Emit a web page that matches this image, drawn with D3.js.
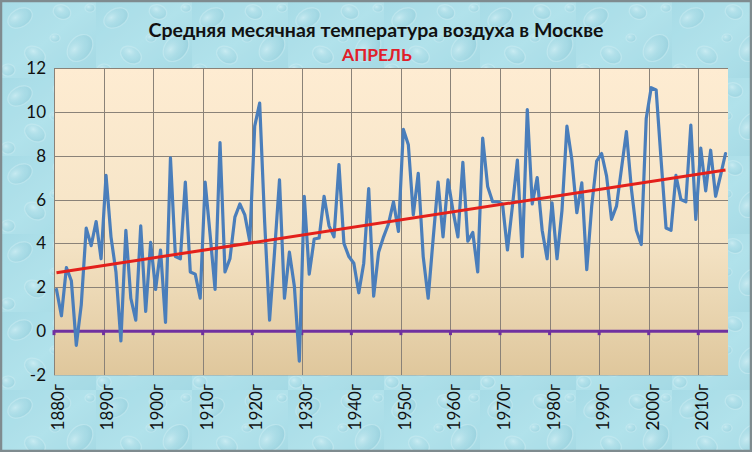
<!DOCTYPE html>
<html><head><meta charset="utf-8">
<script src="https://cdn.jsdelivr.net/npm/d3@7/dist/d3.min.js"></script>
<style>html,body{margin:0;padding:0;background:#fff;}svg{display:block;}</style>
</head><body>
<script>
// ---- data ----
const years = d3.range(1880, 2016);
const temps = [
 1.9, 0.7, 2.9, 2.3, -0.65, 1.2, 4.7, 3.9, 5.0, 3.3,   // 1880-1889
 7.1, 4.3, 2.7, -0.45, 4.6, 1.5, 0.5, 4.8, 0.9, 4.05,  // 1890-1899
 1.9, 3.7, 0.4, 7.9, 3.4, 3.3, 6.8, 2.7, 2.6, 1.5,     // 1900-1909
 6.8, 4.4, 1.9, 8.6, 2.7, 3.3, 5.2, 5.8, 5.3, 4.1,     // 1910-1919
 9.35, 10.4, 5.0, 0.5, 3.6, 6.9, 1.5, 3.6, 2.05, -1.37,// 1920-1929
 6.15, 2.6, 4.2, 4.25, 6.15, 4.8, 4.3, 7.6, 4.0, 3.4,  // 1930-1939
 3.1, 1.75, 3.1, 6.5, 1.6, 3.6, 4.3, 4.9, 5.9, 4.55,   // 1940-1949
 9.2, 8.5, 5.3, 7.2, 3.4, 1.5, 4.2, 6.8, 4.3, 6.9,     // 1950-1959
 5.5, 4.3, 7.7, 4.1, 4.5, 2.7, 8.8, 6.6, 5.9, 5.9,     // 1960-1969
 5.8, 3.7, 5.7, 7.8, 3.4, 10.1, 5.8, 7.0, 4.6, 3.3,    // 1970-1979
 5.85, 3.3, 5.5, 9.35, 7.8, 5.4, 6.76, 2.8, 5.7, 7.75, // 1980-1989
 8.1, 7.07, 5.1, 5.7, 7.4, 9.1, 6.5, 4.6, 3.95, 9.7,   // 1990-1999
 11.1, 11.0, 7.8, 4.7, 4.6, 7.1, 6.0, 5.9, 9.4, 5.1,   // 2000-2009
 8.35, 6.4, 8.25, 6.15, 7.1, 8.1                       // 2010-2015
];
const yTicks = [-2, 0, 2, 4, 6, 8, 10, 12];
const decadeYears = [1880,1890,1900,1910,1920,1930,1940,1950,1960,1970,1980,1990,2000,2010];
const decadeLabels = ["1880г","1890г","1900г","1910г","1920г","1930г","1940г","1950г","1960г","1970г","1980г","1990г","2000г","2010г"];
const title = "Средняя месячная температура воздуха в Москве";
const subtitle = "АПРЕЛЬ";

// ---- layout ----
const W = 752, H = 452;
const svg = d3.select("body").append("svg").attr("width", W).attr("height", H);
const defs = svg.append("defs");

// background water-like pattern
const bgGrad = defs.append("linearGradient").attr("id","bgG").attr("x1","0").attr("y1","0").attr("x2","1").attr("y2","1");
bgGrad.append("stop").attr("offset","0").attr("stop-color","#a6dbe6");
bgGrad.append("stop").attr("offset","0.5").attr("stop-color","#b3e3ec");
bgGrad.append("stop").attr("offset","1").attr("stop-color","#a3d8e3");
const drop = defs.append("radialGradient").attr("id","dropG").attr("cx","0.35").attr("cy","0.35").attr("r","0.7");
drop.append("stop").attr("offset","0").attr("stop-color","#e6f8fb").attr("stop-opacity","0.6");
drop.append("stop").attr("offset","0.6").attr("stop-color","#9fd3df").attr("stop-opacity","0.3");
drop.append("stop").attr("offset","1").attr("stop-color","#7fbfcf").attr("stop-opacity","0.45");
const pat = defs.append("pattern").attr("id","water").attr("patternUnits","userSpaceOnUse").attr("width",96).attr("height",78);
pat.append("rect").attr("width",96).attr("height",78).attr("fill","url(#bgG)");
const drops = [[20,18,13,9,-30],[62,12,9,7,20],[80,48,15,11,-50],[35,55,11,8,30],[8,70,7,6,0],[55,38,5,4,0],[90,8,5,4,0]];
drops.forEach(d => pat.append("ellipse").attr("cx",d[0]).attr("cy",d[1]).attr("rx",d[2]).attr("ry",d[3])
  .attr("transform",`rotate(${d[4]},${d[0]},${d[1]})`)
  .attr("fill","url(#dropG)").attr("stroke","#d8f2f6").attr("stroke-width",1.2).attr("stroke-opacity",0.5));

svg.append("rect").attr("x",0).attr("y",0).attr("width",W).attr("height",H).attr("fill","#a9dde7");
svg.append("rect").attr("x",0).attr("y",0).attr("width",W).attr("height",H).attr("fill","url(#water)").attr("opacity",0.8);
svg.append("rect").attr("x",1).attr("y",1).attr("width",W-2).attr("height",H-2).attr("fill","none").attr("stroke","#7f8b8f").attr("stroke-width",2.5);

const plot = {l:54, r:728, t:68, b:375};
const x = d3.scaleBand().domain(years).range([plot.l, plot.r]).paddingInner(0).paddingOuter(0);
const xc = yr => x(yr) + x.bandwidth()/2;
const y = d3.scaleLinear().domain([-2, 12]).range([plot.b, plot.t]);

// plot area gradient
const pg = defs.append("linearGradient").attr("id","plotG").attr("x1","0").attr("y1","0").attr("x2","0").attr("y2","1");
pg.append("stop").attr("offset","0").attr("stop-color","#feecd2");
pg.append("stop").attr("offset","0.55").attr("stop-color","#f5e4c6");
pg.append("stop").attr("offset","1").attr("stop-color","#dfc79c");
svg.append("rect").attr("x",plot.l).attr("y",plot.t).attr("width",plot.r-plot.l).attr("height",plot.b-plot.t).attr("fill","url(#plotG)");

// gridlines
const grid = svg.append("g").attr("stroke","#8a8278").attr("stroke-width",1).attr("shape-rendering","crispEdges");
yTicks.forEach(v => grid.append("line").attr("x1",plot.l).attr("x2",plot.r).attr("y1",Math.round(y(v))+0.5).attr("y2",Math.round(y(v))+0.5)
  .attr("stroke-opacity", v===-2 ? 0.35 : 1));
decadeYears.forEach(yr => grid.append("line").attr("x1",Math.round(x(yr))+0.5).attr("x2",Math.round(x(yr))+0.5).attr("y1",plot.t).attr("y2",plot.b));

// y axis labels
const font = "Lato, 'Open Sans', 'DejaVu Sans', sans-serif";
svg.append("g").selectAll("text").data(yTicks).join("text")
  .attr("x", 46).attr("y", d => y(d)).attr("dy","0.35em")
  .attr("text-anchor","end").attr("font-family",font).attr("font-size",17).attr("fill","#111")
  .text(d => d);

// x labels
svg.append("g").selectAll("text").data(decadeYears).join("text")
  .attr("transform", (d) => `translate(${xc(d)+1.5},384) rotate(-90)`)
  .attr("dy","0.35em").attr("text-anchor","end")
  .attr("font-family",font).attr("font-size",17).attr("fill","#111")
  .text((d,i) => decadeLabels[i]);

// zero axis line (purple) with ticks
const zeroY = y(0);
svg.append("line").attr("x1",plot.l).attr("x2",plot.r).attr("y1",zeroY).attr("y2",zeroY)
  .attr("stroke","#7030a0").attr("stroke-width",3);
svg.append("g").selectAll("rect").data(decadeYears).join("rect")
  .attr("x", d => x(d)-1.5).attr("y", zeroY-1).attr("width",3).attr("height",5).attr("fill","#7030a0");

// temperature line
const line = d3.line().x((d,i) => xc(years[i])).y(d => y(d));
svg.append("path").datum(temps).attr("d", line).attr("fill","none")
  .attr("stroke","#4a7ebb").attr("stroke-width",3.2).attr("stroke-linejoin","round").attr("stroke-linecap","round");

// linear trend (least squares)
const n = temps.length;
const mx = d3.mean(years), my = d3.mean(temps);
let sxy = 0, sxx = 0;
years.forEach((yr,i) => { sxy += (yr-mx)*(temps[i]-my); sxx += (yr-mx)*(yr-mx); });
const slope = sxy/sxx, icpt = my - slope*mx;
const yr0 = years[0], yr1 = years[n-1];
svg.append("line").attr("x1", xc(yr0)).attr("x2", xc(yr1))
  .attr("y1", y(icpt + slope*yr0)).attr("y2", y(icpt + slope*yr1))
  .attr("stroke","#e3201b").attr("stroke-width",3);

// titles
svg.append("text").attr("x",376).attr("y",37).attr("text-anchor","middle")
  .attr("font-family",font).attr("font-weight","bold").attr("font-size",19.5).attr("fill","#111").text(title);
svg.append("text").attr("x",377).attr("y",61).attr("text-anchor","middle")
  .attr("font-family",font).attr("font-weight","bold").attr("font-size",17.5).attr("fill","#e0202a").text(subtitle);
</script>
</body></html>
